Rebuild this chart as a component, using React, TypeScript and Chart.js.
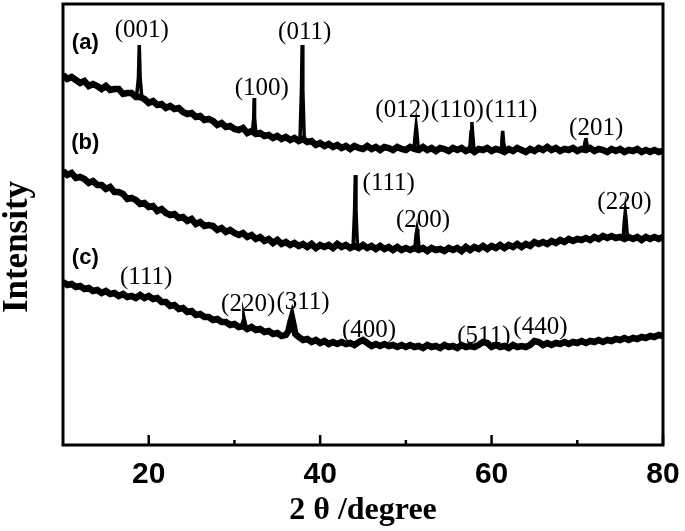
import React, { useEffect, useRef } from "react";
import { Chart, registerables } from "chart.js";

Chart.register(...registerables);

// 2θ (degree) vs intensity (a.u., patterns stacked) — noisy background of each pattern
const backgroundA: [number, number][] = [
  [10, 395], [10.5, 391], [11, 393], [11.5, 390], [12, 387], [12.5, 389], [13, 384], [13.5, 386],
  [14, 384], [14.5, 381], [15, 384], [15.5, 380], [16, 381], [16.5, 381], [17, 376], [17.5, 377],
  [18, 377], [18.5, 373], [19, 373], [19.5, 371], [20, 367], [20.5, 369], [21, 365], [21.5, 366],
  [22, 362], [22.5, 364], [23, 361], [23.5, 362], [24, 358], [24.5, 356], [25, 357], [25.5, 353],
  [26, 354], [26.5, 350], [27, 351], [27.5, 349], [28, 345], [28.5, 347], [29, 343], [29.5, 344],
  [30, 341], [30.5, 340], [31, 342], [31.5, 337], [32, 339], [32.5, 336], [33, 337], [33.5, 334],
  [34, 335], [34.5, 332], [35, 334], [35.5, 331], [36, 333], [36.5, 330], [37, 332], [37.5, 329],
  [38, 331], [38.5, 328], [39, 329], [39.5, 325], [40, 327], [40.5, 324], [41, 326], [41.5, 323],
  [42, 325], [42.5, 322], [43, 324], [43.5, 321], [44, 324], [44.5, 322], [45, 321], [45.5, 324],
  [46, 321], [46.5, 323], [47, 320], [47.5, 323], [48, 322], [48.5, 320], [49, 323], [49.5, 321],
  [50, 320], [50.5, 323], [51, 321], [51.5, 320], [52, 323], [52.5, 320], [53, 322], [53.5, 319],
  [54, 322], [54.5, 321], [55, 319], [55.5, 322], [56, 320], [56.5, 322], [57, 319], [57.5, 321],
  [58, 318], [58.5, 321], [59, 320], [59.5, 322], [60, 319], [60.5, 321], [61, 320], [61.5, 318],
  [62, 321], [62.5, 319], [63, 322], [63.5, 320], [64, 318], [64.5, 321], [65, 319], [65.5, 322],
  [66, 320], [66.5, 323], [67, 320], [67.5, 322], [68, 319], [68.5, 321], [69, 320], [69.5, 322],
  [70, 319], [70.5, 321], [71, 320], [71.5, 322], [72, 319], [72.5, 321], [73, 320], [73.5, 318],
  [74, 321], [74.5, 319], [75, 321], [75.5, 318], [76, 320], [76.5, 319], [77, 321], [77.5, 318],
  [78, 320], [78.5, 318], [79, 320], [79.5, 318], [80, 319],
];

const backgroundB: [number, number][] = [
  [10, 299], [10.5, 295], [11, 297], [11.5, 292], [12, 293], [12.5, 291], [13, 287], [13.5, 289],
  [14, 285], [14.5, 285], [15, 281], [15.5, 283], [16, 278], [16.5, 278], [17, 276], [17.5, 271],
  [18, 272], [18.5, 270], [19, 266], [19.5, 267], [20, 263], [20.5, 264], [21, 259], [21.5, 261],
  [22, 257], [22.5, 255], [23, 256], [23.5, 252], [24, 253], [24.5, 249], [25, 251], [25.5, 246],
  [26, 248], [26.5, 244], [27, 245], [27.5, 244], [28, 240], [28.5, 242], [29, 238], [29.5, 240],
  [30, 237], [30.5, 235], [31, 237], [31.5, 233], [32, 235], [32.5, 231], [33, 233], [33.5, 229],
  [34, 231], [34.5, 227], [35, 230], [35.5, 226], [36, 228], [36.5, 225], [37, 227], [37.5, 224],
  [38, 226], [38.5, 223], [39, 226], [39.5, 222], [40, 225], [40.5, 223], [41, 225], [41.5, 222],
  [42, 226], [42.5, 223], [43, 225], [43.5, 222], [44, 224], [44.5, 222], [45, 225], [45.5, 222],
  [46, 224], [46.5, 221], [47, 224], [47.5, 221], [48, 223], [48.5, 220], [49, 223], [49.5, 220],
  [50, 222], [50.5, 220], [51, 222], [51.5, 220], [52, 222], [52.5, 219], [53, 222], [53.5, 220],
  [54, 221], [54.5, 219], [55, 222], [55.5, 220], [56, 222], [56.5, 219], [57, 223], [57.5, 220],
  [58, 223], [58.5, 221], [59, 224], [59.5, 221], [60, 224], [60.5, 222], [61, 225], [61.5, 222],
  [62, 225], [62.5, 223], [63, 226], [63.5, 223], [64, 226], [64.5, 224], [65, 228], [65.5, 226],
  [66, 228], [66.5, 226], [67, 229], [67.5, 227], [68, 230], [68.5, 228], [69, 231], [69.5, 229],
  [70, 231], [70.5, 230], [71, 232], [71.5, 230], [72, 233], [72.5, 231], [73, 234], [73.5, 232],
  [74, 234], [74.5, 232], [75, 233], [75.5, 231], [76, 233], [76.5, 231], [77, 233], [77.5, 230],
  [78, 233], [78.5, 231], [79, 233], [79.5, 231], [80, 233],
];

const backgroundC: [number, number][] = [
  [10, 188], [10.5, 185], [11, 186], [11.5, 183], [12, 184], [12.5, 181], [13, 182], [13.5, 179],
  [14, 180], [14.5, 177], [15, 179], [15.5, 176], [16, 177], [16.5, 174], [17, 176], [17.5, 173],
  [18, 174], [18.5, 172], [19, 175], [19.5, 172], [20, 174], [20.5, 171], [21, 172], [21.5, 168],
  [22, 168], [22.5, 164], [23, 165], [23.5, 161], [24, 162], [24.5, 158], [25, 159], [25.5, 155],
  [26, 156], [26.5, 153], [27, 153], [27.5, 150], [28, 151], [28.5, 148], [29, 148], [29.5, 145],
  [30, 146], [30.5, 143], [31, 144], [31.5, 141], [32, 143], [32.5, 140], [33, 141], [33.5, 138],
  [34, 139], [34.5, 136], [35, 137], [35.5, 134], [36, 135], [36.3, 139], [36.5, 147], [36.7, 153],
  [36.9, 145], [37.1, 136], [37.5, 133], [38, 130], [38.5, 131], [39, 128], [39.5, 130], [40, 127],
  [40.5, 129], [41, 126], [41.5, 128], [42, 126], [42.5, 128], [43, 126], [43.5, 127], [44, 125],
  [44.5, 128], [45, 130], [45.5, 127], [46, 124], [46.5, 126], [47, 124], [47.5, 126], [48, 124],
  [48.5, 125], [49, 123], [49.5, 125], [50, 123], [50.5, 125], [51, 123], [51.5, 124], [52, 122],
  [52.5, 125], [53, 123], [53.5, 124], [54, 122], [54.5, 125], [55, 123], [55.5, 124], [56, 122],
  [56.5, 125], [57, 123], [57.5, 124], [58, 123], [58.5, 125], [59, 128], [59.5, 127], [60, 123],
  [60.5, 125], [61, 123], [61.5, 124], [62, 122], [62.5, 125], [63, 123], [63.5, 124], [64, 123],
  [64.5, 125], [65, 129], [65.5, 128], [66, 125], [66.5, 127], [67, 125], [67.5, 127], [68, 126],
  [68.5, 128], [69, 126], [69.5, 128], [70, 127], [70.5, 129], [71, 127], [71.5, 129], [72, 128],
  [72.5, 130], [73, 128], [73.5, 130], [74, 129], [74.5, 131], [75, 130], [75.5, 132], [76, 130],
  [76.5, 132], [77, 131], [77.5, 133], [78, 132], [78.5, 134], [79, 133], [79.5, 135], [80, 134],
];

// sharp diffraction peaks (each: points of one reflection)
const peaksA: [number, number][][] = [
  [[18.6, 375], [18.8, 392], [18.9, 425], [19.0, 392], [19.2, 372]],
  [[32.1, 338], [32.25, 352], [32.3, 372], [32.35, 352], [32.5, 337]],
  [[37.65, 331], [37.82, 380], [37.9, 425], [37.98, 380], [38.15, 330]],
  [[50.95, 322], [51.1, 336], [51.2, 344], [51.3, 336], [51.45, 321]],
  [[57.45, 321], [57.6, 338], [57.7, 348], [57.8, 336], [57.95, 320]],
  [[61.1, 320], [61.2, 330], [61.3, 339], [61.4, 328], [61.55, 320]],
  [[70.75, 320], [70.9, 328], [71.0, 332], [71.1, 327], [71.25, 320]],
];
const peaksB: [number, number][][] = [
  [[43.85, 224], [44.02, 260], [44.1, 295], [44.18, 260], [44.35, 223]],
  [[51.05, 222], [51.2, 236], [51.3, 241], [51.4, 236], [51.55, 221]],
  [[75.35, 232], [75.5, 250], [75.6, 258], [75.7, 250], [75.85, 232]],
];
const peaksC: [number, number][][] = [
  [[30.8, 143], [31.0, 149], [31.1, 153], [31.2, 149], [31.4, 142]],
];

// Miller-index annotations (text, 2θ of label centre, intensity of label centre)
const peakLabels = [
  "(001)", "(100)", "(011)", "(012)", "(110)", "(111)", "(201)",
  "(111)", "(200)", "(220)",
  "(111)", "(220)", "(311)", "(400)", "(511)", "(440)",
];
const peakLabelAngles = [
  19.2, 33.2, 38.2, 49.6, 56.0, 62.3, 72.2,
  48.0, 52.0, 75.5,
  19.7, 31.6, 38.0, 45.7, 59.1, 65.7,
];
const peakLabelIntensities = [
  440, 382, 438, 360, 360, 360, 342,
  287, 250, 268,
  193, 166, 168, 140, 134, 143,
];

const panelLabels = ["(a)", "(b)", "(c)"];
const panelLabelAngles = [12.6, 12.6, 12.6];
const panelLabelIntensities = [427, 327, 212];

const majorTicks = [20, 40, 60, 80];
const minorTicks = [30, 50, 70];

const overlayPlugin = {
  id: "xrdOverlay",
  afterDatasetsDraw(chart: any) {
    const { ctx, chartArea, scales } = chart;
    const xs = scales.x;
    const ys = scales.y;
    ctx.save();
    ctx.strokeStyle = "#000";
    ctx.lineWidth = 3;
    ctx.strokeRect(chartArea.left, chartArea.top, chartArea.right - chartArea.left, chartArea.bottom - chartArea.top);
    ctx.lineWidth = 2.5;
    ctx.beginPath();
    majorTicks.forEach((v) => {
      const px = xs.getPixelForValue(v);
      ctx.moveTo(px, chartArea.bottom);
      ctx.lineTo(px, chartArea.bottom - 10);
    });
    minorTicks.forEach((v) => {
      const px = xs.getPixelForValue(v);
      ctx.moveTo(px, chartArea.bottom);
      ctx.lineTo(px, chartArea.bottom - 5);
    });
    ctx.stroke();
    ctx.fillStyle = "#000";
    ctx.textAlign = "center";
    ctx.textBaseline = "middle";
    ctx.font = "25px 'Liberation Serif'";
    peakLabels.forEach((t, i) => {
      ctx.fillText(t, xs.getPixelForValue(peakLabelAngles[i]), ys.getPixelForValue(peakLabelIntensities[i]));
    });
    ctx.font = "bold 22px 'Liberation Sans'";
    panelLabels.forEach((t, i) => {
      ctx.fillText(t, xs.getPixelForValue(panelLabelAngles[i]), ys.getPixelForValue(panelLabelIntensities[i]));
    });
    ctx.translate(18, 247);
    ctx.rotate(-Math.PI / 2);
    ctx.font = "bold 35px 'Liberation Serif'";
    ctx.fillText("Intensity", 0, 0);
    ctx.restore();
  },
};

export default function App() {
  const ref = useRef<HTMLCanvasElement | null>(null);
  useEffect(() => {
    document.body.style.margin = "0";
    const canvas = ref.current;
    if (!canvas) return;
    const band = (d: [number, number][]) => ({
      data: d.map(([x, y]) => ({ x, y })),
      borderColor: "#000",
      borderWidth: 6.5,
      pointRadius: 0,
      tension: 0,
      borderJoinStyle: "miter" as const,
      borderCapStyle: "butt" as const,
      fill: false,
    });
    const spikes = (peaks: [number, number][][]) => ({
      data: peaks.flatMap((p) => [
        ...p.map(([x, y]) => ({ x, y } as any)),
        { x: p[p.length - 1][0] + 0.01, y: null } as any,
      ]),
      borderColor: "#000",
      borderWidth: 3.5,
      pointRadius: 0,
      tension: 0,
      spanGaps: false,
      borderJoinStyle: "miter" as const,
      fill: false,
    });
    const chart = new Chart(canvas, {
      type: "line",
      data: {
        datasets: [
          band(backgroundA), spikes(peaksA),
          band(backgroundB), spikes(peaksB),
          band(backgroundC), spikes(peaksC),
        ],
      },
      options: {
        animation: false,
        responsive: false,
        layout: { padding: { top: 4, right: 22, left: 0, bottom: 0 } },
        plugins: { legend: { display: false }, tooltip: { enabled: false } },
        scales: {
          x: {
            type: "linear",
            min: 10,
            max: 80,
            grid: { display: false, drawTicks: false },
            border: { display: false },
            ticks: {
              stepSize: 10,
              autoSkip: false,
              maxRotation: 0,
              padding: 12,
              color: "#000",
              font: { family: "'Liberation Sans'", weight: "bold", size: 30 },
              callback: (v: any) => (Number(v) % 20 === 0 ? String(v) : ""),
            },
            title: {
              display: true,
              text: "2 θ /degree",
              color: "#000",
              font: { family: "'Liberation Serif'", weight: "bold", size: 32 },
              padding: { top: 0, bottom: 1 },
            },
            afterFit: (s: any) => {
              s.height = 86;
              s.paddingLeft = 0;
              s.paddingRight = 0;
            },
          },
          y: {
            type: "linear",
            min: 25,
            max: 466,
            grid: { display: false, drawTicks: false },
            border: { display: false },
            ticks: { display: false },
            afterFit: (s: any) => {
              s.width = 63;
            },
          },
        },
      },
      plugins: [overlayPlugin],
    });
    return () => chart.destroy();
  }, []);
  return <canvas ref={ref} width={685} height={531} style={{ display: "block" }} />;
}
